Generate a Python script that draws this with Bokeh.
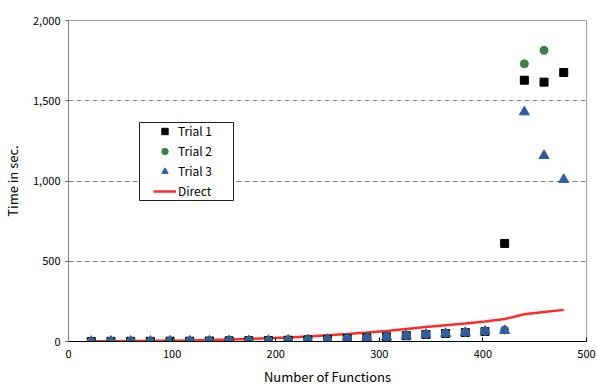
import numpy as np
from bokeh.plotting import figure
from bokeh.models import (Range1d, FixedTicker, NumeralTickFormatter, Legend, LegendItem,
                          BoxAnnotation)
from bokeh.embed import file_html
from bokeh.resources import INLINE

# ---- data ----
n_funcs = [22, 41, 60, 79, 98, 117, 136, 155, 174, 193, 212, 231, 250, 269, 288,
           307, 326, 345, 364, 383, 402, 421, 440, 459, 478]
trial1 = [0, 1, 1, 1, 2, 2, 3, 4, 5, 6, 8, 10, 13, 18, 23,
          29, 36, 44, 50, 56, 62, 611, 1628, 1616, 1676]
n_funcs2 = n_funcs[:24]
trial2 = [0, 1, 1, 1, 2, 2, 3, 4, 5, 6, 8, 10, 13, 18, 23,
          29, 37, 45, 51, 57, 64, 72, 1730, 1814]
trial3 = [0, 1, 1, 1, 2, 2, 3, 4, 5, 6, 8, 10, 13, 18, 23,
          29, 36, 44, 50, 56, 63, 68, 1430, 1158, 1009]
direct = [1, 2, 3, 4, 5, 7, 9, 12, 16, 20, 25, 31, 39, 47, 56,
          66, 78, 90, 101, 112, 124, 140, 170, 184, 197]
x_ticks = [0, 100, 200, 300, 400, 500]
y_ticks = [0, 500, 1000, 1500, 2000]

FONT = "Noto Sans CJK JP"

p = figure(width=597, height=388, output_backend="svg", toolbar_location=None,
           x_range=Range1d(0, 500), y_range=Range1d(0, 2000),
           min_border_left=66, min_border_right=11, min_border_top=20, min_border_bottom=47)
p.outline_line_color = "#a0a0a0"
p.outline_line_width = 1

# grid
p.xgrid.grid_line_color = None
p.ygrid.ticker = FixedTicker(ticks=[500, 1000, 1500])
p.ygrid.grid_line_color = "#808080"
p.ygrid.grid_line_dash = "5 3"
p.ygrid.grid_line_width = 1

# axes
p.xaxis.ticker = FixedTicker(ticks=x_ticks)
p.yaxis.ticker = FixedTicker(ticks=y_ticks)
p.yaxis.formatter = NumeralTickFormatter(format="0,0")
for ax in (p.xaxis[0], p.yaxis[0]):
    ax.minor_tick_line_color = None
    ax.major_label_text_font = FONT
    ax.major_label_text_font_size = "11px"
    ax.major_label_text_color = "black"
    ax.axis_label_text_font = FONT
    ax.axis_label_text_font_size = "13px"
    ax.axis_label_text_font_style = "normal"
    ax.axis_label_text_color = "black"
p.xaxis.axis_label = "Number of Functions"
p.yaxis.axis_label = "Time in sec."
p.xaxis.axis_line_color = "black"
p.xaxis.major_tick_line_color = "black"
p.xaxis.major_tick_in = 4
p.xaxis.major_tick_out = 0
p.xaxis.major_label_standoff = 8
p.xaxis.axis_label_standoff = 6
p.yaxis.axis_line_color = "#808080"
p.yaxis.major_tick_line_color = "#606060"
p.yaxis.major_tick_in = 0
p.yaxis.major_tick_out = 3
p.yaxis.major_label_standoff = 5
p.yaxis.axis_label_standoff = 8

# glyphs
r_dir = p.line(n_funcs, direct, line_color="#ff2a2a", line_width=2.5)
r1 = p.scatter(n_funcs, trial1, marker="square", size=8, fill_color="black", line_color="black")
r2 = p.scatter(n_funcs2, trial2, marker="circle", size=8, fill_color="#3b7f45", line_color="#3b7f45")
r3 = p.scatter(n_funcs, trial3, marker="triangle", size=10, fill_color="#2d5daa", line_color="#2d5daa")

# legend frame box (screen units relative to plot frame)
box = BoxAnnotation(left=71, right=165, bottom=141, top=219,
                    left_units="screen", right_units="screen",
                    bottom_units="screen", top_units="screen",
                    fill_color="white", fill_alpha=1,
                    line_color="#202020", line_width=1, line_alpha=1)
p.add_layout(box)

legend = Legend(items=[LegendItem(label="Trial 1", renderers=[r1]),
                       LegendItem(label="Trial 2", renderers=[r2]),
                       LegendItem(label="Trial 3", renderers=[r3]),
                       LegendItem(label="Direct", renderers=[r_dir])],
                location=(85, 142))
legend.label_text_font = FONT
legend.label_text_font_size = "12px"
legend.label_text_color = "black"
legend.label_height = 16
legend.glyph_height = 16
legend.glyph_width = 23
legend.spacing = 3
legend.padding = 0
legend.margin = 0
legend.label_standoff = 2
legend.border_line_color = None
legend.background_fill_alpha = 0
p.add_layout(legend, "center")

open("out.html", "w").write(file_html(p, INLINE))
